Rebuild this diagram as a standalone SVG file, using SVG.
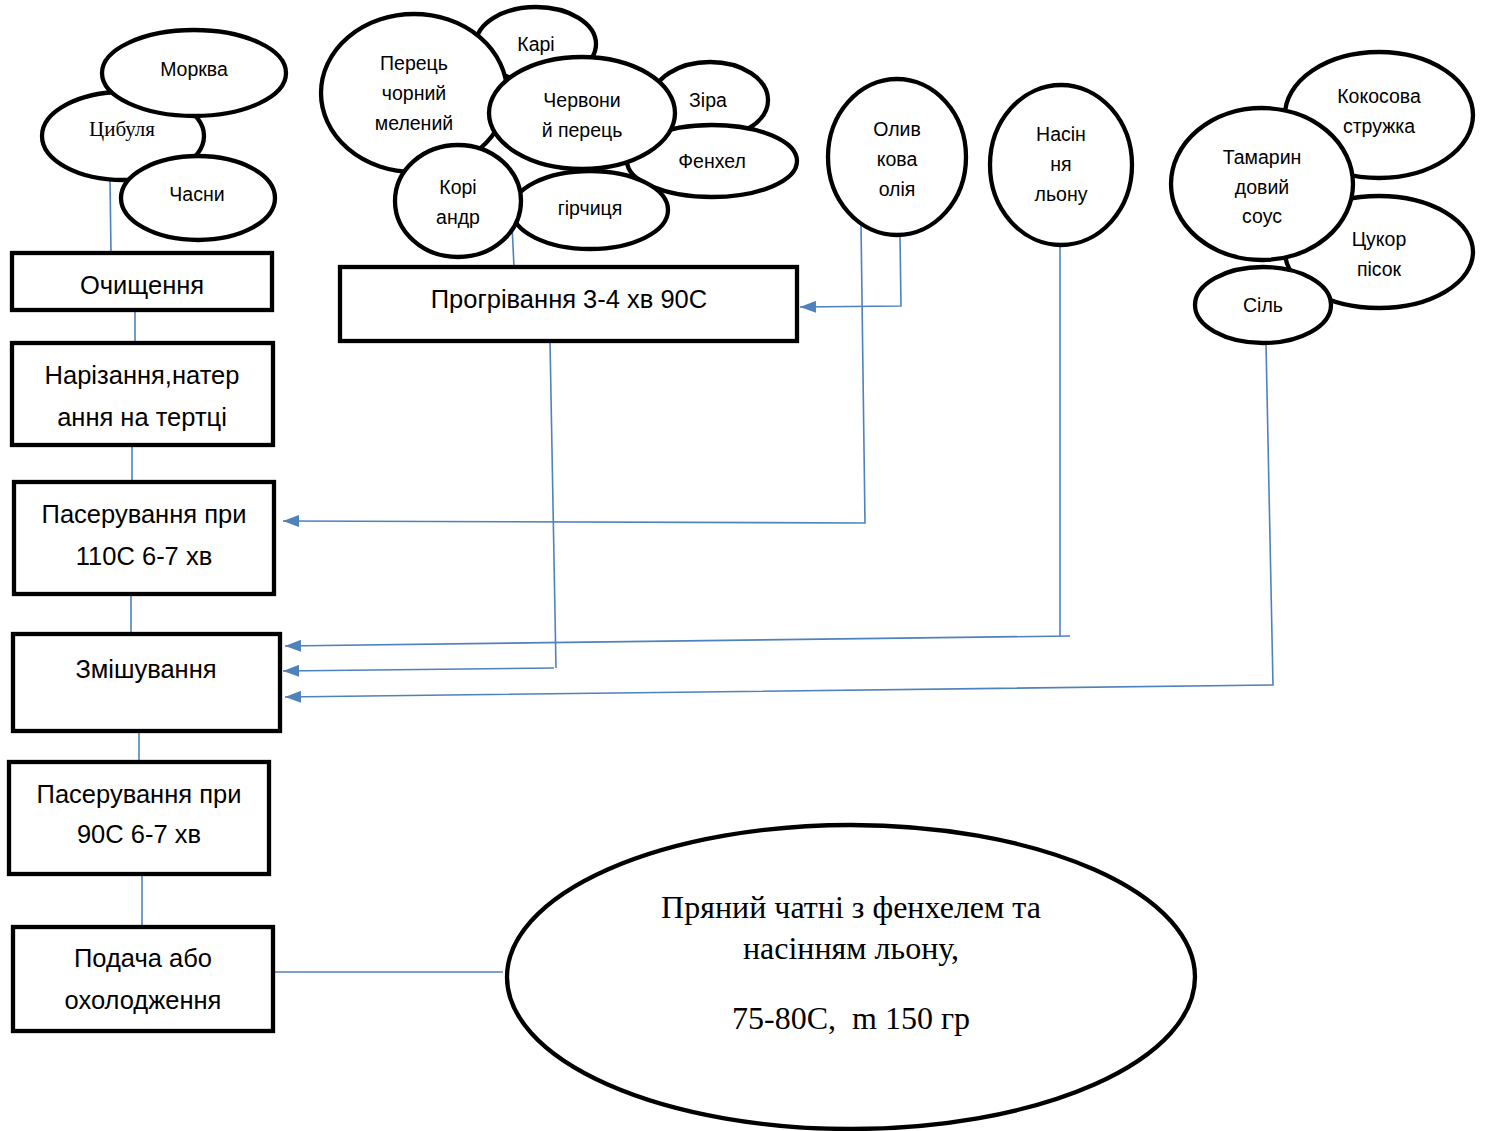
<svg xmlns="http://www.w3.org/2000/svg" width="1485" height="1131" viewBox="0 0 1485 1131">
<defs>
<style>
.n{fill:#fff;stroke:#000;stroke-width:4.3}
.s{font-family:"Liberation Sans",Arial,sans-serif;font-size:19.5px;text-anchor:middle;fill:#000}
.b{font-family:"Liberation Sans",Arial,sans-serif;font-size:25.5px;text-anchor:middle;fill:#000}
.t{font-family:"Liberation Serif","Times New Roman",serif;text-anchor:middle;fill:#000}
.c{fill:none;stroke:#4F81BD;stroke-width:1.6}
</style>
<marker id="a" viewBox="0 0 16 12" refX="16" refY="6" markerWidth="16" markerHeight="12" markerUnits="userSpaceOnUse" orient="auto">
<path d="M0,0 L16,6 L0,12 z" fill="#4F81BD"/>
</marker>
</defs>

<g id="connectors">
<path class="c" d="M110,180 L111,253"/>
<path class="c" d="M135,310 L135,343"/>
<path class="c" d="M132,445 L132,482"/>
<path class="c" d="M131,594 L131,634"/>
<path class="c" d="M139,731 L139,762"/>
<path class="c" d="M142,874 L142,927"/>
<path class="c" d="M272,972 L503,972"/>
<path class="c" d="M512,225 L514,267"/>
<path class="c" d="M900,236 L901,306 L800,307" marker-end="url(#a)"/>
<path class="c" d="M861,224 L865,523 L283,521" marker-end="url(#a)"/>
<path class="c" d="M1060,245 L1060,636"/>
<path class="c" d="M1070,636 L285,646" marker-end="url(#a)"/>
<path class="c" d="M550,341 L556,668"/>
<path class="c" d="M554,668 L283,671" marker-end="url(#a)"/>
<path class="c" d="M1266,343 L1273,685 L285,697" marker-end="url(#a)"/>
</g>

<g id="n-cybulya"><ellipse class="n" cx="123" cy="136" rx="81" ry="44"/><text class="t" x="122" y="136" font-size="21">Цибуля</text></g>
<g id="n-morkva"><ellipse class="n" cx="194" cy="73" rx="92" ry="43"/><text class="s" x="194" y="76">Морква</text></g>
<g id="n-chasny"><ellipse class="n" cx="198" cy="198" rx="77" ry="42"/><text class="s" x="197" y="201">Часни</text></g>

<g id="n-ochyshchennya"><rect class="n" x="12" y="253" width="260" height="57"/><text class="b" x="142" y="294">Очищення</text></g>
<g id="n-narizannya"><rect class="n" x="12" y="343" width="261" height="102"/><text class="b" x="142" y="384">Нарізання,натер</text><text class="b" x="142" y="426">ання на тертці</text></g>
<g id="n-paser110"><rect class="n" x="14" y="482" width="260" height="112"/><text class="b" x="144" y="523">Пасерування при</text><text class="b" x="144" y="565">110С 6-7 хв</text></g>
<g id="n-zmishuvannya"><rect class="n" x="13" y="634" width="267" height="97"/><text class="b" x="146" y="678">Змішування</text></g>
<g id="n-paser90"><rect class="n" x="9" y="762" width="260" height="112"/><text class="b" x="139" y="803">Пасерування при</text><text class="b" x="139" y="843">90С 6-7 хв</text></g>
<g id="n-podacha"><rect class="n" x="13" y="927" width="260" height="104"/><text class="b" x="143" y="967">Подача або</text><text class="b" x="143" y="1009">охолодження</text></g>

<g id="n-result"><ellipse class="n" cx="851" cy="977" rx="344" ry="152"/>
<text class="t" x="851" y="918" font-size="32">Пряний чатні з фенхелем та</text>
<text class="t" x="851" y="959" font-size="32">насінням льону,</text>
<text class="t" x="851" y="1029" font-size="32" xml:space="preserve">75-80С,  m 150 гр</text></g>

<g id="n-progrivannya"><rect class="n" x="340" y="267" width="457" height="74"/><text class="b" x="569" y="308">Прогрівання 3-4 хв 90С</text></g>

<g id="n-kari"><ellipse class="n" cx="536" cy="44" rx="60" ry="37"/><text class="s" x="536" y="51">Карі</text></g>
<g id="n-perets"><ellipse class="n" cx="414" cy="93" rx="93" ry="79"/><text class="s" x="414" y="70">Перець</text><text class="s" x="414" y="100">чорний</text><text class="s" x="414" y="130">мелений</text></g>
<g id="n-zira"><ellipse class="n" cx="710" cy="100" rx="58" ry="38"/><text class="s" x="708" y="107">Зіра</text></g>
<g id="n-fenkhel"><ellipse class="n" cx="712" cy="161" rx="85" ry="36"/><text class="s" x="712" y="168">Фенхел</text></g>
<g id="n-hirchytsya"><ellipse class="n" cx="590" cy="210" rx="78" ry="39"/><text class="s" x="590" y="215">гірчиця</text></g>
<g id="n-chervonyi"><ellipse class="n" cx="582" cy="113" rx="93" ry="56"/><text class="s" x="582" y="107">Червони</text><text class="s" x="582" y="137">й перець</text></g>
<g id="n-koriandr"><ellipse class="n" cx="458" cy="201" rx="63" ry="56"/><text class="s" x="458" y="194">Корі</text><text class="s" x="458" y="224">андр</text></g>

<g id="n-olyvkova"><ellipse class="n" cx="897" cy="157" rx="69" ry="78"/><text class="s" x="897" y="136">Олив</text><text class="s" x="897" y="166">кова</text><text class="s" x="897" y="196">олія</text></g>
<g id="n-nasinnya"><ellipse class="n" cx="1061" cy="165" rx="71" ry="80"/><text class="s" x="1061" y="141">Насін</text><text class="s" x="1061" y="171">ня</text><text class="s" x="1061" y="201">льону</text></g>

<g id="n-kokosova"><ellipse class="n" cx="1379" cy="115" rx="94" ry="63"/><text class="s" x="1379" y="103">Кокосова</text><text class="s" x="1379" y="133">стружка</text></g>
<g id="n-tsukor"><ellipse class="n" cx="1379" cy="252" rx="94" ry="56"/><text class="s" x="1379" y="246">Цукор</text><text class="s" x="1379" y="276">пісок</text></g>
<g id="n-tamaryndovyi"><ellipse class="n" cx="1262" cy="184" rx="91" ry="76"/><text class="s" x="1262" y="164">Тамарин</text><text class="s" x="1262" y="194">довий</text><text class="s" x="1262" y="223">соус</text></g>
<g id="n-sil"><ellipse class="n" cx="1263" cy="305" rx="68" ry="38"/><text class="s" x="1263" y="312">Сіль</text></g>
</svg>
